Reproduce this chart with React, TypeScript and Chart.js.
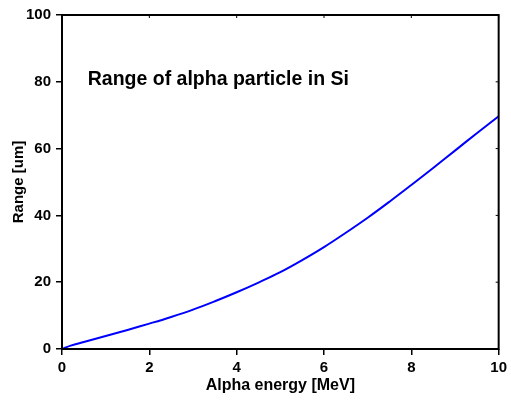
import React, { useEffect, useRef } from "react";
import { Chart, registerables } from "chart.js";

Chart.register(...registerables);

const energies = [0, 0.2, 0.5, 1, 1.5, 2, 2.5, 3, 3.5, 4, 4.5, 5, 5.5, 6, 6.5, 7, 7.5, 8, 8.5, 9, 9.5, 10];
const ranges = [0, 1.0, 2.1, 3.9, 5.7, 7.6, 9.6, 11.8, 14.3, 17.0, 19.9, 23.0, 26.6, 30.5, 34.8, 39.3, 44.1, 49.1, 54.2, 59.4, 64.6, 69.7];
const xTitle = "Alpha energy [MeV]";
const yTitle = "Range [um]";
const annotation = "Range of alpha particle in Si";
const annotationAt = { x: 0.59, y: 79 };

const FONT = "'Liberation Sans', Arial, sans-serif";

const framePlugin = {
  id: "frame",
  afterDraw(chart: any) {
    const { ctx, chartArea } = chart;
    const xs = chart.scales.x;
    const ys = chart.scales.y;
    ctx.save();
    ctx.strokeStyle = "#000";
    ctx.lineWidth = 2;
    ctx.strokeRect(chartArea.left, chartArea.top, chartArea.right - chartArea.left, chartArea.bottom - chartArea.top);
    ctx.lineWidth = 1;
    ctx.beginPath();
    xs.ticks.forEach((t: any) => {
      const px = xs.getPixelForValue(t.value);
      ctx.moveTo(px, chartArea.top);
      ctx.lineTo(px, chartArea.top + 3);
    });
    ys.ticks.forEach((t: any) => {
      const py = ys.getPixelForValue(t.value);
      ctx.moveTo(chartArea.right, py);
      ctx.lineTo(chartArea.right - 3, py);
    });
    ctx.stroke();
    ctx.fillStyle = "#000";
    ctx.font = `bold 19.5px ${FONT}`;
    ctx.textBaseline = "alphabetic";
    ctx.textAlign = "left";
    ctx.fillText(annotation, xs.getPixelForValue(annotationAt.x), ys.getPixelForValue(annotationAt.y));
    ctx.restore();
  },
};

export default function App() {
  const ref = useRef<HTMLCanvasElement>(null);
  useEffect(() => {
    if (!ref.current) return;
    const chart = new Chart(ref.current, {
      type: "line",
      data: {
        datasets: [
          {
            data: energies.map((e, i) => ({ x: e, y: ranges[i] })),
            borderColor: "#0000ff",
            borderWidth: 2,
            pointRadius: 0,
            tension: 0.4,
            fill: false,
          },
        ],
      },
      options: {
        animation: false,
        responsive: false,
        maintainAspectRatio: false,
        layout: { padding: { top: 15, right: 11, left: 10, bottom: 0 } },
        plugins: { legend: { display: false }, tooltip: { enabled: false } },
        scales: {
          x: {
            type: "linear",
            min: 0,
            max: 10,
            ticks: { stepSize: 2, color: "#000", font: { family: FONT, weight: "bold", size: 15 }, padding: 4, maxRotation: 0 },
            grid: { drawOnChartArea: false, drawTicks: true, tickLength: 6, color: "#000", lineWidth: 1.5 },
            border: { display: false },
            title: { display: true, text: xTitle, color: "#000", font: { family: FONT, weight: "bold", size: 16 }, padding: { top: 0, bottom: 7 } },
            afterFit(scale: any) {
              scale.height = 53;
            },
          },
          y: {
            type: "linear",
            min: 0,
            max: 100,
            ticks: { stepSize: 20, color: "#000", font: { family: FONT, weight: "bold", size: 15 }, padding: 5 },
            grid: { drawOnChartArea: false, drawTicks: true, tickLength: 6, color: "#000", lineWidth: 1.5 },
            border: { display: false },
            title: { display: true, text: yTitle, color: "#000", font: { family: FONT, weight: "bold", size: 15 }, padding: { top: 0, bottom: 0 } },
            afterFit(scale: any) {
              scale.width = 52;
            },
          },
        },
      },
      plugins: [framePlugin],
    } as any);
    return () => chart.destroy();
  }, []);
  return (
    <div style={{ position: "fixed", left: 0, top: 0, width: 511, height: 402, background: "#fff" }}>
      <canvas ref={ref} width={511} height={402} style={{ width: 511, height: 402, display: "block" }} />
    </div>
  );
}
